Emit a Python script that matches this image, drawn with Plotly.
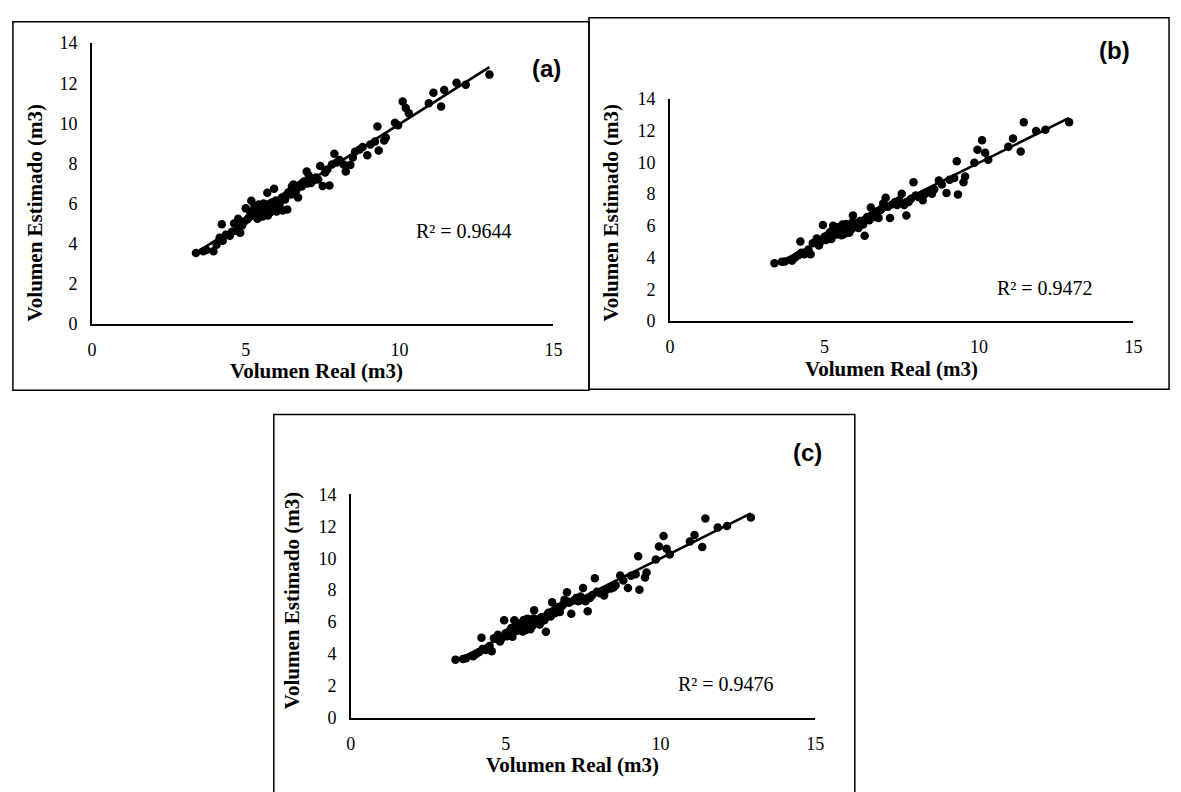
import numpy as np
import plotly.graph_objects as go

W, H = 1181, 792

# ---------------- data ----------------
volumen_real = [
    3.38, 3.62, 3.72, 3.95, 4.05, 4.15, 4.22, 4.25, 4.35, 4.48,
    4.55, 4.62, 4.70, 4.75, 4.82, 4.88, 4.95, 5.00, 5.05, 5.10,
    5.15, 5.18, 5.22, 5.28, 5.32, 5.38, 5.42, 5.45, 5.50, 5.55,
    5.58, 5.62, 5.65, 5.70, 5.72, 5.75, 5.80, 5.85, 5.88, 5.92,
    5.95, 6.00, 6.05, 6.10, 6.15, 6.20, 6.25, 6.30, 6.35, 6.40,
    6.45, 6.50, 6.55, 6.62, 6.70, 6.75, 6.82, 6.90, 6.98, 7.05,
    7.12, 7.20, 7.28, 7.35, 7.42, 7.50, 7.58, 7.65, 7.72, 7.80,
    7.88, 7.95, 8.05, 8.18, 8.25, 8.40, 8.48, 8.55, 8.70, 8.80,
    8.95, 9.05, 9.20, 9.28, 9.32, 9.50, 9.55, 9.85, 9.95, 10.10,
    10.20, 10.30, 10.95, 11.10, 11.35, 11.45, 11.85, 12.15, 12.92,
    5.25, 5.35, 5.48, 5.52, 5.60, 5.68, 5.78, 5.82, 5.90, 5.98,
    6.08, 6.18, 6.28, 6.38, 6.48, 6.58, 6.65, 6.78, 6.86, 7.00,
]

estimado_a = [
    3.54, 3.62, 3.68, 3.62, 3.95, 4.30, 4.97, 4.15, 4.45, 4.40,
    4.60, 5.00, 4.65, 5.24, 4.55, 4.90, 5.10, 5.76, 5.20, 5.30,
    5.57, 6.14, 5.40, 5.85, 5.60, 5.24, 5.95, 5.50, 5.70, 5.35,
    6.00, 5.80, 5.60, 6.54, 5.40, 5.90, 5.57, 6.05, 5.75, 6.74,
    5.85, 5.60, 6.10, 5.95, 6.20, 5.65, 6.25, 6.40, 5.70, 6.54,
    6.60, 6.85, 6.95, 6.60, 6.30, 6.90, 6.85, 7.10, 7.60, 7.40,
    7.03, 7.15, 7.30, 7.20, 7.87, 6.87, 7.55, 7.70, 6.90, 7.95,
    8.49, 8.05, 8.17, 7.95, 7.60, 7.92, 8.30, 8.58, 8.70, 8.82,
    8.41, 8.95, 9.10, 9.84, 8.65, 9.14, 9.30, 10.03, 9.90, 11.09,
    10.76, 10.50, 11.00, 11.53, 10.84, 11.66, 12.03, 11.93, 12.43,
    5.45, 5.55, 5.75, 5.60, 5.50, 5.95, 5.70, 6.00, 5.65, 6.15,
    6.00, 6.30, 6.20, 6.55, 6.45, 6.80, 6.70, 6.95, 7.05, 7.00,
]

estimado_b = [
    3.63, 3.73, 3.75, 3.80, 4.00, 4.14, 5.00, 4.30, 4.20, 4.50,
    4.20, 4.90, 4.95, 5.20, 4.76, 5.00, 6.04, 5.30, 5.10, 5.40,
    5.25, 5.60, 5.16, 6.00, 5.70, 5.45, 5.90, 5.55, 5.75, 5.40,
    6.08, 5.85, 5.50, 6.10, 5.60, 5.90, 5.55, 6.05, 5.80, 6.65,
    5.90, 6.00, 6.15, 5.85, 6.30, 6.10, 6.08, 5.37, 6.40, 6.50,
    6.35, 7.14, 6.70, 6.60, 6.80, 6.49, 7.00, 7.40, 7.76, 7.20,
    6.49, 7.35, 7.50, 7.30, 7.60, 8.02, 7.30, 6.65, 7.50, 7.70,
    8.73, 7.90, 7.80, 7.61, 8.00, 8.10, 8.02, 8.30, 8.84, 8.60,
    8.06, 8.90, 9.00, 10.06, 7.96, 8.73, 9.10, 9.96, 10.78, 11.39,
    10.60, 10.16, 10.98, 11.49, 10.67, 12.51, 11.96, 12.04, 12.51,
    5.35, 5.60, 5.80, 5.65, 5.45, 5.95, 5.75, 5.95, 6.20, 6.10,
    6.05, 6.25, 6.35, 6.55, 6.60, 6.55, 6.90, 6.95, 7.10, 7.25,
]

estimado_c = [
    3.64, 3.68, 3.72, 3.85, 4.00, 4.12, 5.02, 4.30, 4.25, 4.50,
    4.16, 4.98, 4.95, 5.20, 4.77, 5.00, 6.11, 5.30, 5.10, 5.40,
    5.28, 5.62, 5.08, 6.11, 5.70, 5.45, 5.90, 5.55, 5.75, 5.40,
    6.12, 5.85, 5.50, 6.21, 5.60, 5.90, 5.55, 6.05, 5.80, 6.73,
    5.90, 6.00, 6.15, 5.85, 6.30, 6.10, 6.11, 5.39, 6.40, 6.50,
    6.35, 7.24, 6.70, 6.60, 6.80, 6.63, 7.00, 7.40, 7.86, 7.20,
    6.52, 7.35, 7.50, 7.30, 7.60, 8.13, 7.30, 6.67, 7.50, 7.70,
    8.74, 7.90, 7.80, 7.67, 8.00, 8.10, 8.17, 8.30, 8.91, 8.60,
    8.13, 8.90, 9.00, 10.12, 8.02, 8.79, 9.10, 9.92, 10.74, 11.40,
    10.60, 10.23, 11.05, 11.46, 10.70, 12.49, 11.93, 12.02, 12.55,
    5.38, 5.62, 5.80, 5.68, 5.48, 5.98, 5.75, 5.95, 6.22, 6.12,
    6.05, 6.28, 6.35, 6.58, 6.62, 6.55, 6.92, 6.98, 7.12, 7.28,
]

panel_labels = ["(a)", "(b)", "(c)"]
r2_labels = ["R² = 0.9644", "R² = 0.9472", "R² = 0.9476"]
x_ticks = [0, 5, 10, 15]
y_ticks = [0, 2, 4, 6, 8, 10, 12, 14]
x_title = "Volumen Real (m3)"
y_title = "Volumen Estimado (m3)"

# ---------------- layout helpers (pixel -> paper) ----------------
def px(x):
    return x / W

def py(y):
    return 1 - y / H

# axis boxes in pixels: (x0, x15, y0, y14)
axes_px = [
    (88, 555, 322, 34),
    (673, 1142, 319, 91),
    (350, 820, 726, 497),
]
panel_boxes = [
    (8, 12, 591, 390),
    (591, 8, 1178, 389),
    (272, 415, 860, 860),
]
panel_label_pos = [(548, 60), (1123, 42), (812, 454)]
r2_pos = [(465, 227), (1052, 285), (730, 691)]
xtitle_pos = [(315, 370), (897, 368), (574, 775)]
ytitle_pos = [(30, 208), (613, 208), (290, 606)]

SERIF = "Liberation Serif, Times New Roman, serif"
SANS = "Liberation Sans, Arial, sans-serif"

fig = go.Figure()
series = [estimado_a, estimado_b, estimado_c]
layout = dict(
    width=W, height=H,
    margin=dict(l=0, r=0, t=0, b=0),
    paper_bgcolor="white", plot_bgcolor="white",
    showlegend=False,
)
annotations = []
shapes = []

for i, est in enumerate(series):
    suffix = "" if i == 0 else str(i + 1)
    xa, ya = "x" + suffix, "y" + suffix
    x = np.array(volumen_real)
    y = np.array(est)
    fig.add_trace(go.Scatter(
        x=x, y=y, mode="markers", xaxis=xa, yaxis=ya,
        marker=dict(color="black", size=8.5, line=dict(width=0)),
        hoverinfo="skip",
    ))
    m, b = np.polyfit(x, y, 1)
    xl = np.array([x.min(), x.max()])
    fig.add_trace(go.Scatter(
        x=xl, y=m * xl + b, mode="lines", xaxis=xa, yaxis=ya,
        line=dict(color="black", width=2.6), hoverinfo="skip",
    ))
    x0p, x15p, y0p, y14p = axes_px[i]
    common = dict(
        showline=True, linecolor="black", linewidth=1.6,
        showgrid=False, zeroline=False,
        ticks="outside", ticklen=9, tickcolor="rgba(0,0,0,0)",
        tickfont=dict(family=SERIF, size=18, color="black"),
        fixedrange=True,
    )
    layout["xaxis" + suffix] = dict(
        common, domain=[px(x0p), px(x15p)], range=[0, 15],
        tickvals=x_ticks, anchor=ya,
    )
    layout["yaxis" + suffix] = dict(
        common, domain=[py(y0p), py(y14p)], range=[0, 14],
        tickvals=y_ticks, anchor=xa,
    )
    bx0, by0, bx1, by1 = panel_boxes[i]
    shapes.append(dict(
        type="rect", xref="paper", yref="paper",
        x0=px(bx0), x1=px(bx1), y0=py(by1), y1=py(by0),
        line=dict(color="black", width=1.5), fillcolor="rgba(0,0,0,0)",
    ))
    lx, ly = panel_label_pos[i]
    annotations.append(dict(
        text="<b>%s</b>" % panel_labels[i], x=px(lx), y=py(ly),
        xref="paper", yref="paper", showarrow=False,
        xanchor="center", yanchor="middle",
        font=dict(family=SANS, size=24, color="black"),
    ))
    rx, ry = r2_pos[i]
    annotations.append(dict(
        text=r2_labels[i], x=px(rx), y=py(ry),
        xref="paper", yref="paper", showarrow=False,
        xanchor="center", yanchor="middle",
        font=dict(family=SERIF, size=20, color="black"),
    ))
    tx, ty = xtitle_pos[i]
    annotations.append(dict(
        text="<b>%s</b>" % x_title, x=px(tx), y=py(ty),
        xref="paper", yref="paper", showarrow=False,
        xanchor="center", yanchor="middle",
        font=dict(family=SERIF, size=21, color="black"),
    ))
    vx, vy = ytitle_pos[i]
    annotations.append(dict(
        text="<b>%s</b>" % y_title, x=px(vx), y=py(vy),
        xref="paper", yref="paper", showarrow=False, textangle=-90,
        xanchor="center", yanchor="middle",
        font=dict(family=SERIF, size=21, color="black"),
    ))

layout["annotations"] = annotations
layout["shapes"] = shapes
fig.update_layout(**layout)
fig.write_html(
    "out.html",
    config={"displayModeBar": False},
    post_script="document.body.style.margin='0';document.body.style.overflow='hidden';",
)
